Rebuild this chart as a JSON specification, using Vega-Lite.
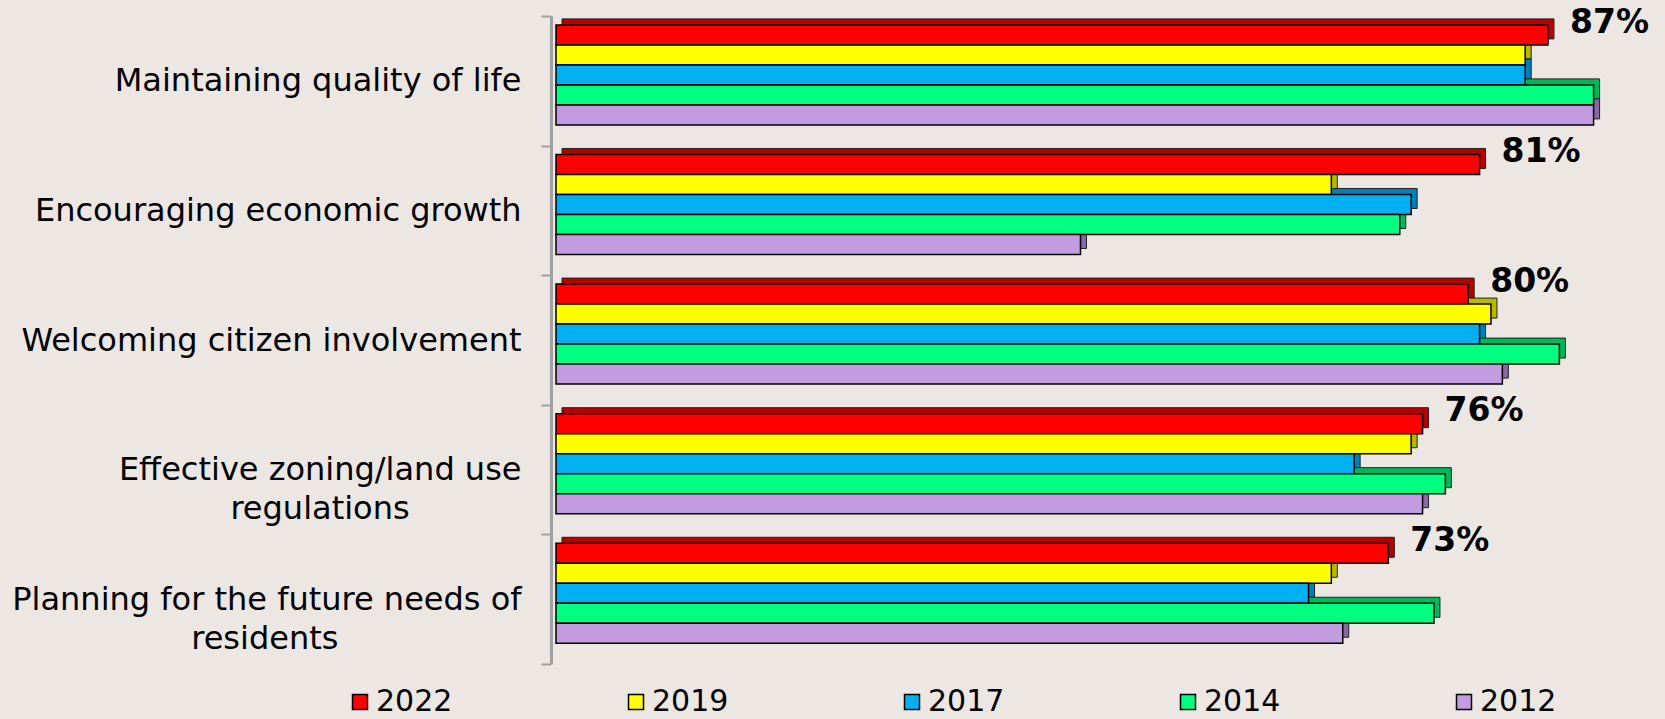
{
  "$schema": "https://vega.github.io/schema/vega-lite/v6.json",
  "autosize": "none",
  "width": 1106,
  "height": 648,
  "padding": {"left": 556, "top": 16, "right": 3, "bottom": 55},
  "background": "#ece7e3",
  "config": {"view": {"stroke": null}, "font": "DejaVu Sans"},
  "data": {
    "values": [
      {"category": "Maintaining quality of life", "year": "2022", "value": 0.87},
      {"category": "Maintaining quality of life", "year": "2019", "value": 0.85},
      {"category": "Maintaining quality of life", "year": "2017", "value": 0.85},
      {"category": "Maintaining quality of life", "year": "2014", "value": 0.91},
      {"category": "Maintaining quality of life", "year": "2012", "value": 0.91},
      {"category": "Encouraging economic growth", "year": "2022", "value": 0.81},
      {"category": "Encouraging economic growth", "year": "2019", "value": 0.68},
      {"category": "Encouraging economic growth", "year": "2017", "value": 0.75},
      {"category": "Encouraging economic growth", "year": "2014", "value": 0.74},
      {"category": "Encouraging economic growth", "year": "2012", "value": 0.46},
      {"category": "Welcoming citizen involvement", "year": "2022", "value": 0.80},
      {"category": "Welcoming citizen involvement", "year": "2019", "value": 0.82},
      {"category": "Welcoming citizen involvement", "year": "2017", "value": 0.81},
      {"category": "Welcoming citizen involvement", "year": "2014", "value": 0.88},
      {"category": "Welcoming citizen involvement", "year": "2012", "value": 0.83},
      {"category": "Effective zoning/land use|regulations", "year": "2022", "value": 0.76},
      {"category": "Effective zoning/land use|regulations", "year": "2019", "value": 0.75},
      {"category": "Effective zoning/land use|regulations", "year": "2017", "value": 0.70},
      {"category": "Effective zoning/land use|regulations", "year": "2014", "value": 0.78},
      {"category": "Effective zoning/land use|regulations", "year": "2012", "value": 0.76},
      {"category": "Planning for the future needs of|residents", "year": "2022", "value": 0.73},
      {"category": "Planning for the future needs of|residents", "year": "2019", "value": 0.68},
      {"category": "Planning for the future needs of|residents", "year": "2017", "value": 0.66},
      {"category": "Planning for the future needs of|residents", "year": "2014", "value": 0.77},
      {"category": "Planning for the future needs of|residents", "year": "2012", "value": 0.69}
    ]
  },
  "encoding": {
    "y": {
      "field": "category", "type": "nominal", "sort": null,
      "scale": {"paddingInner": 0, "paddingOuter": 0},
      "axis": {
        "title": null,
        "domainColor": "#a0a0a0", "domainWidth": 3,
        "tickColor": "#a0a0a0", "tickWidth": 2, "tickSize": 10,
        "tickBand": "extent",
        "offset": 5,
        "labelFont": "DejaVu Sans", "labelFontSize": 32, "labelColor": "black",
        "labelLimit": 700, "labelOverlap": false,
        "labelLineHeight": 39,
        "labelExpr": "indexof(datum.label, '|') < 0 ? datum.label : [split(datum.label, '|')[0], pad(split(datum.label, '|')[1], length(split(datum.label, '|')[1]) + round(0.78 * (length(split(datum.label, '|')[0]) - length(split(datum.label, '|')[1]))), '\u00a0', 'right') + '\u200b']",
        "labelAlign": "right",
        "labelPadding": 20
      }
    },
    "x": {"field": "value", "type": "quantitative", "scale": {"domain": [0, 0.97]}, "axis": null}
  },
  "layer": [
    {
      "mark": {"type": "bar", "xOffset": 6, "stroke": "#222222", "strokeWidth": 1},
      "encoding": {
        "yOffset": {"field": "year", "type": "nominal", "sort": ["2022", "2019", "2017", "2014", "2012"],
          "scale": {"domain": ["2022", "2019", "2017", "2014", "2012"], "paddingInner": 0, "paddingOuter": 0.74, "align": 0.3, "range": [-6, 123.6]}},
        "color": {"field": "year", "type": "nominal", "legend": null,
          "scale": {"domain": ["2022", "2019", "2017", "2014", "2012"], "range": ["#b80000", "#b8b800", "#0080b8", "#00b85a", "#8a68a8"]}}
      }
    },
    {
      "mark": {"type": "bar", "stroke": "black", "strokeWidth": 1.5},
      "encoding": {
        "yOffset": {"field": "year", "type": "nominal", "sort": ["2022", "2019", "2017", "2014", "2012"],
          "scale": {"domain": ["2022", "2019", "2017", "2014", "2012"], "paddingInner": 0, "paddingOuter": 0.74, "align": 0.3}},
        "color": {"field": "year", "type": "nominal",
          "scale": {"domain": ["2022", "2019", "2017", "2014", "2012"], "range": ["#ff0000", "#ffff00", "#00b0f0", "#00ff80", "#c29be0"]},
          "legend": {
            "orient": "none", "legendX": -211, "legendY": 671, "direction": "horizontal", "columns": 5,
            "title": null, "symbolType": "square", "symbolSize": 225,
            "symbolStrokeColor": "black", "symbolStrokeWidth": 1.5, "symbolOpacity": 1,
            "labelFont": "DejaVu Sans", "labelFontSize": 30, "labelColor": "black",
            "columnPadding": 168, "labelOffset": 1, "padding": 0
          }
        }
      }
    },
    {
      "transform": [{"filter": "datum.year == '2022'"}],
      "mark": {"type": "text", "align": "left", "baseline": "middle", "dx": 22, "dy": -4, "fontSize": 33, "fontWeight": "bold", "font": "DejaVu Sans", "color": "black"},
      "encoding": {
        "yOffset": {"field": "year", "type": "nominal",
          "scale": {"domain": ["2022", "2019", "2017", "2014", "2012"], "paddingInner": 0, "paddingOuter": 0.74, "align": 0.3}},
        "text": {"field": "value", "format": ".0%"}
      }
    }
  ],
  "resolve": {"scale": {"yOffset": "independent", "color": "independent"}}
}
